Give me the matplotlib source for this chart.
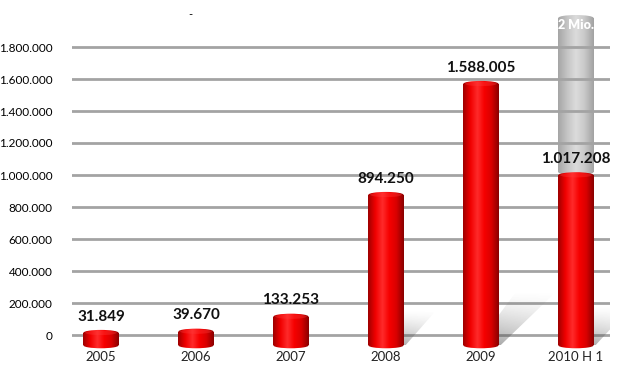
import numpy as np
import matplotlib
matplotlib.use("Agg")
import matplotlib.pyplot as plt
from matplotlib.colors import LinearSegmentedColormap
from matplotlib.patches import Rectangle, Ellipse, Polygon

years = ['2005', '2006', '2007', '2008', '2009', '2010 H 1']
values = [31849, 39670, 133253, 894250, 1588005, 1017208]
value_labels = ['31.849', '39.670', '133.253', '894.250', '1.588.005', '1.017.208']
target_value = 2000000
target_label = '2 Mio.'
yticks = [0, 200000, 400000, 600000, 800000, 1000000, 1200000, 1400000, 1600000, 1800000]
ytick_labels = ['0', '200.000', '400.000', '600.000', '800.000', '1.000.000',
                '1.200.000', '1.400.000', '1.600.000', '1.800.000']

plt.rcParams['font.family'] = ['Lato', 'DejaVu Sans']

red_cmap = LinearSegmentedColormap.from_list(
    'cyl', ['#a00000', '#f00000', '#ff2a2a', '#f60000', '#d80000', '#8a0000'])
grey_cmap = LinearSegmentedColormap.from_list(
    'cylg', ['#a6a6a6', '#c4c4c4', '#dcdcdc', '#c8c8c8', '#a2a2a2'])
grad = np.linspace(0, 1, 64).reshape(1, -1)

fig = plt.figure(figsize=(6.4, 3.71), dpi=100)
ax = fig.add_axes([0.1125, 0.0, 0.953 - 0.1125, 1.0])
ax.set_xlim(-0.305, 5.358)
ax.set_ylim(-225000, 2093750)
for s in ax.spines.values():
    s.set_visible(False)
ax.set_xticks([])
ax.set_yticks(yticks)
ax.set_yticklabels(ytick_labels, fontsize=8.5)
ax.tick_params(axis='y', length=0, pad=14)

for t in yticks:
    ax.axhline(t, color='#a3a3a3', lw=2, zorder=1)

w = 0.37
base = -65000
cap = 36000


def cylinder(x, lo, hi, cmap, z, alpha=1.0):
    rect = Rectangle((x - w / 2, lo), w, hi - lo, transform=ax.transData)
    bot = Ellipse((x, lo), w, cap, transform=ax.transData)
    top = Ellipse((x, hi), w, cap, transform=ax.transData)
    for clip in (rect, bot, top):
        im = ax.imshow(grad, cmap=cmap, aspect='auto', alpha=alpha, zorder=z,
                       extent=[x - w / 2, x + w / 2, lo - cap, hi + cap])
        im.set_clip_path(clip)


# soft shadows of the tall bars, fading upward and to the right
ny, nx = 48, 48
yy, xx = np.mgrid[0:ny, 0:nx]
fade = np.zeros((ny, nx, 4))
fade[..., :3] = 0.3
fade[..., 3] = 0.55 * (yy / (ny - 1)) ** 1.3 * (1 - 0.5 * xx / (nx - 1))
for i, v in enumerate(values):
    if v < 500000:
        continue
    reach = min(v * 0.17, 290000)
    dx = reach / 290000 * 0.65
    poly = Polygon([(i - 0.05, base), (i + w / 2 + 0.02, base),
                    (i + w / 2 + dx, reach), (i + w / 2 + dx - 0.42, reach)],
                   closed=True, transform=ax.transData)
    im = ax.imshow(fade, aspect='auto', zorder=1.5, interpolation='bilinear',
                   extent=[i - 0.05, i + w / 2 + dx, base, reach])
    im.set_clip_path(poly)

# grey target cylinder for 2010 (gridlines show through it)
i_last = len(values) - 1
cylinder(i_last, values[-1], target_value - cap / 2, grey_cmap, 0.5)
ax.text(i_last, target_value - 60000, target_label, ha='center', va='center',
        color='white', fontsize=9, fontweight='heavy', zorder=6)

for i, v in enumerate(values):
    cylinder(i, base, v - cap / 2, red_cmap, 3)
    ax.add_patch(Ellipse((i, v - cap / 2), w * 0.9, cap * 0.8, facecolor='#ff3b3b',
                         alpha=0.35, lw=0, zorder=4))
    ax.text(i, v + 40000, value_labels[i], ha='center', va='bottom',
            fontsize=11, fontweight='bold', color='#111111', zorder=7)
    ax.text(i, -140000, years[i], ha='center', va='center', fontsize=9.5, color='#222222')

fig.text(190 / 640, 1 - 15 / 371, '-', fontsize=8, ha='center', va='center')

fig.savefig('out.png', dpi=100, facecolor='white')
